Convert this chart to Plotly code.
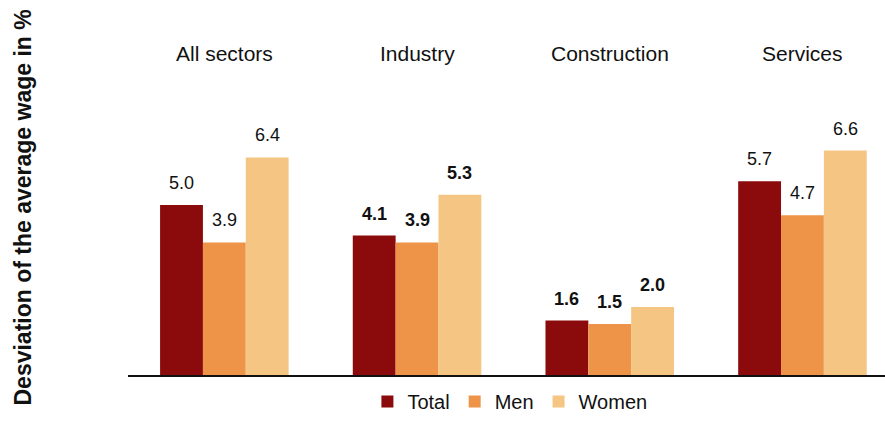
import plotly.graph_objects as go

# Sector categories and wage deviation (%) by group
sectors = ["All sectors", "Industry", "Construction", "Services"]
total = [5.0, 4.1, 1.6, 5.7]
men = [3.9, 3.9, 1.5, 4.7]
women = [6.4, 5.3, 2.0, 6.6]
bold_labels = [False, True, True, False]

series = [
    ("Total", total, "#8B0A0B"),
    ("Men", men, "#EE9449"),
    ("Women", women, "#F5C584"),
]

FONT = "Liberation Sans, Arial, sans-serif"
W, H = 885, 421
ML, MB, MT = 128, 46, 40
bargap = 0.333
bar_w = (1 - bargap) / len(series)

fig = go.Figure()
for name, vals, color in series:
    fig.add_trace(go.Bar(
        name=name, x=list(range(len(sectors))), y=vals,
        marker=dict(color=color, line=dict(width=0)),
    ))

annotations = []
# Value labels above each bar
for j, (name, vals, color) in enumerate(series):
    for i, v in enumerate(vals):
        txt = f"{v:.1f}"
        if bold_labels[i]:
            txt = f"<b>{txt}</b>"
        annotations.append(dict(
            x=i + (j - 1) * bar_w, y=v, xref="x", yref="y",
            text=txt, showarrow=False, yanchor="middle", yshift=22,
            font=dict(family=FONT, size=18, color="#111111"),
        ))

# Sector names above the groups
for i, s in enumerate(sectors):
    annotations.append(dict(
        x=i, y=9.46, xref="x", yref="y", text=s, showarrow=False,
        yanchor="middle", font=dict(family=FONT, size=21, color="#111111"),
    ))

# Vertical axis title
plot_w = W - ML
annotations.append(dict(
    x=(22 - ML) / plot_w, y=0.5, xref="paper", yref="paper",
    text="<b>Desviation of the average wage in %</b>", textangle=-90,
    showarrow=False, xanchor="center", yanchor="middle",
    font=dict(family=FONT, size=23, color="#111111"),
))

cat_px = 192.7
right_extent = (W - (ML + 0.5 * cat_px)) / cat_px

fig.update_layout(
    width=W, height=H,
    margin=dict(l=ML, r=0, t=MT, b=MB, autoexpand=False),
    paper_bgcolor="white", plot_bgcolor="white",
    barmode="group", bargap=bargap, bargroupgap=0,
    showlegend=True,
    legend=dict(
        orientation="h", x=0.5 + 4 / W, xanchor="center",
        yref="container", y=0, yanchor="bottom",
        font=dict(family=FONT, size=20, color="#111111"),
        itemwidth=30, tracegroupgap=0,
    ),
    xaxis=dict(
        range=[-0.5, right_extent], showticklabels=False, ticks="",
        showgrid=False, zeroline=False, showline=True,
        linecolor="#111111", linewidth=2,
    ),
    yaxis=dict(
        range=[0, (H - MB - MT) / 34.0], visible=False, showgrid=False,
        zeroline=False,
    ),
    annotations=annotations,
)

fig.write_html("out.html")
